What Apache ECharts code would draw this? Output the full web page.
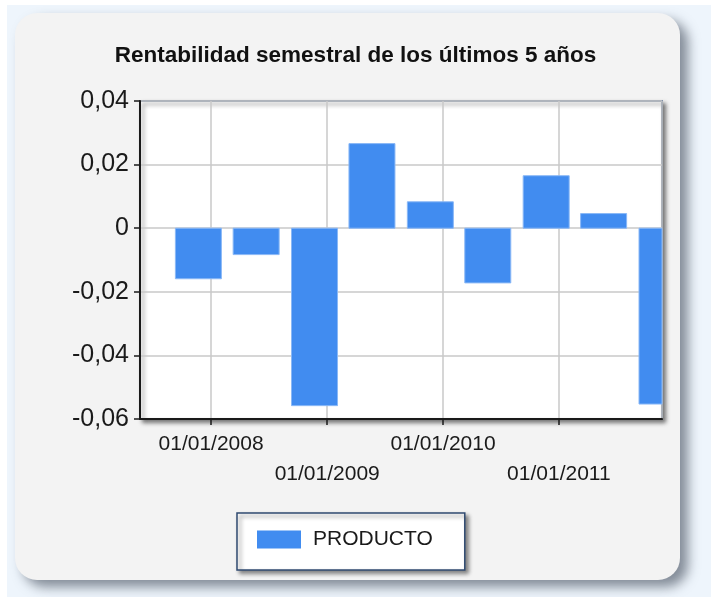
<!DOCTYPE html>
<html>
<head>
<meta charset="utf-8">
<script src="https://cdn.jsdelivr.net/npm/echarts@6/dist/echarts.min.js"></script>
<style>
  html, body { margin: 0; padding: 0; background: #ffffff; }
  #chart { width: 711px; height: 597px; }
</style>
</head>
<body>
<div id="chart"></div>
<script>
// Semester end dates and the product's half-year return for each
var semesterDates = ['2007-11-22', '2008-05-22', '2008-11-22', '2009-05-22', '2009-11-22',
                     '2010-05-22', '2010-11-22', '2011-05-22', '2011-11-22'];
var productReturns = [-0.0159, -0.0083, -0.0558, 0.0266, 0.0083, -0.0172, 0.0165, 0.0046, -0.0553];
var seriesName = 'PRODUCTO';
var chartTitle = 'Rentabilidad semestral de los últimos 5 años';
var xRange = ['2007-05-22', '2011-11-22'];
var yTicks = { min: -0.06, max: 0.04, step: 0.02 };

var BAR_COLOR = '#418cf0';
var BAR_WIDTH = 46;

function pad2(n) { return (n < 10 ? '0' : '') + n; }
// 'YYYY-MM-DD' -> local timestamp
function toTime(s) {
  var p = s.split('-');
  return new Date(+p[0], +p[1] - 1, +p[2]).getTime();
}

// Column from the zero line to the value, clipped to the plot area
function renderColumn(params, api) {
  var t = api.value(0);
  var v = api.value(1);
  var base = api.coord([t, 0]);
  var top = api.coord([t, v]);
  var cs = params.coordSys;
  var shape = echarts.graphic.clipRectByRect(
    { x: base[0] - BAR_WIDTH / 2, y: Math.min(base[1], top[1]),
      width: BAR_WIDTH, height: Math.abs(top[1] - base[1]) },
    { x: cs.x, y: cs.y, width: cs.width, height: cs.height }
  );
  if (!shape) return null;
  return {
    type: 'rect',
    shape: shape,
    style: { fill: BAR_COLOR, stroke: '#8ab8f6', lineWidth: 1 }
  };
}

var chart = echarts.init(document.getElementById('chart'), null, { renderer: 'canvas' });

var option = {
  backgroundColor: '#ffffff',
  animation: false,
  graphic: [
    { type: 'rect', z: -10, silent: true,
      shape: { x: 7, y: 5, width: 704, height: 592 },
      style: { fill: '#eef5fc' } },
    { type: 'rect', z: -9, silent: true,
      shape: { x: 15, y: 13, width: 665, height: 567, r: 22 },
      style: { fill: '#f3f3f3', shadowBlur: 12, shadowOffsetX: 8, shadowOffsetY: 7,
               shadowColor: 'rgba(60,70,85,0.6)' } }
  ],
  title: {
    text: chartTitle,
    left: 'center',
    top: 39,
    textStyle: { fontFamily: 'Liberation Sans', fontSize: 22.5, fontWeight: 'bold', color: '#111111' }
  },
  legend: {
    left: 237,
    top: 513,
    padding: [16, 32, 20, 20],
    itemWidth: 44,
    itemHeight: 18,
    backgroundColor: '#ffffff',
    borderColor: '#2f4a70',
    borderWidth: 1.5,
    shadowColor: 'rgba(0,0,0,0.45)',
    shadowBlur: 4,
    shadowOffsetX: 3,
    shadowOffsetY: 3,
    itemStyle: { borderWidth: 0 },
    textStyle: { fontFamily: 'Liberation Sans', fontSize: 21, color: '#1a1a1a', padding: [0, 0, 0, 7] },
    data: [{ name: seriesName, icon: 'rect' }]
  },
  grid: {
    left: 140, top: 101, right: 49, bottom: 178,
    show: true,
    backgroundColor: '#ffffff',
    borderColor: '#34527a',
    borderWidth: 1.5,
    shadowColor: 'rgba(0,0,0,0.5)',
    shadowBlur: 4,
    shadowOffsetX: 3,
    shadowOffsetY: 3
  },
  xAxis: {
    type: 'time',
    min: toTime(xRange[0]),
    max: toTime(xRange[1]),
    splitNumber: 4,
    minInterval: 300 * 24 * 3600 * 1000,
    axisLine: { show: true, onZero: false, lineStyle: { color: '#1a1a1a', width: 2 } },
    axisTick: { show: true, length: 6, lineStyle: { color: '#1a1a1a', width: 1.5 } },
    splitLine: { show: true, lineStyle: { color: '#c8c8c8', width: 1.5 } },
    axisLabel: {
      margin: 10,
      fontFamily: 'Liberation Sans',
      fontSize: 21,
      lineHeight: 30,
      color: '#1a1a1a',
      hideOverlap: false,
      formatter: function (value) {
        var d = new Date(value);
        var s = pad2(d.getDate()) + '/' + pad2(d.getMonth() + 1) + '/' + d.getFullYear();
        return d.getFullYear() % 2 === 0 ? s : '\n' + s;
      }
    }
  },
  yAxis: {
    type: 'value',
    min: yTicks.min,
    max: yTicks.max,
    interval: yTicks.step,
    axisLine: { show: true, lineStyle: { color: '#1a1a1a', width: 2 } },
    axisTick: { show: true, length: 6, lineStyle: { color: '#1a1a1a', width: 1.5 } },
    splitLine: { show: true, lineStyle: { color: '#c8c8c8', width: 1.5 } },
    axisLabel: {
      margin: 11,
      fontFamily: 'Liberation Sans',
      fontSize: 25,
      color: '#1a1a1a',
      formatter: function (v) {
        if (Math.abs(v) < 1e-9) return '0';
        return v.toFixed(2).replace('.', ',');
      }
    }
  },
  series: [{
    name: seriesName,
    type: 'custom',
    renderItem: renderColumn,
    itemStyle: { color: BAR_COLOR },
    encode: { x: 0, y: 1 },
    data: semesterDates.map(function (d, i) { return [toTime(d), productReturns[i]]; })
  }]
};

chart.setOption(option);
</script>
</body>
</html>
